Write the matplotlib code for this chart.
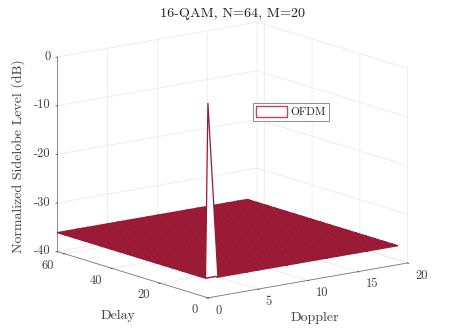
import numpy as np
import matplotlib
matplotlib.use('Agg')
import matplotlib.pyplot as plt
from matplotlib.patches import Patch

plt.rcParams['font.family'] = ['cmr10', 'DejaVu Serif']
plt.rcParams['axes.unicode_minus'] = False

W, H = 449, 336

# mesh grid, N=64 delay bins and M=20 doppler bins
delay = np.arange(64)
doppler = np.arange(20)
floor_level = -36.1
peak_level = 0.0

delay_ticks = [0, 20, 40, 60]
doppler_ticks = [0, 5, 10, 15, 20]
level_ticks = [-40, -30, -20, -10, 0]
level_labels = ['-40', '-30', '-20', '-10', '0']

RED = '#9a1935'
TXT = '#404040'
AXC = '#7a7a7a'
GRID = '#ebebeb'

fig = plt.figure(figsize=(W / 100, H / 100), dpi=100)
side = 394.4
ax = fig.add_axes([30 / W, -26.5 / H, side / W, side / H], projection='3d')
ax.set_proj_type('ortho')
ax.view_init(elev=13.4, azim=-127)
ax.set_box_aspect((1, 1, 0.8))

X, Y = np.meshgrid(doppler, delay)
Z = np.full(X.shape, floor_level)
Z[0, 0] = peak_level
ax.plot_surface(X, Y, Z, rstride=1, cstride=1, color='white', edgecolor=RED,
                linewidth=0.9, shade=False, antialiased=True)

ax.set_xlim(0, 20, view_margin=0)
ax.set_ylim(0, 63, view_margin=0)
ax.set_zlim(-40, 0, view_margin=0)
ax.set_xticks(doppler_ticks)
ax.set_yticks(delay_ticks)
ax.set_zticks(level_ticks)
ax.set_zticklabels(level_labels)
ax.tick_params(labelsize=9, colors=TXT)
ax.xaxis.set_tick_params(pad=-0.2)
ax.yaxis.set_tick_params(pad=-0.2)
ax.zaxis.set_tick_params(pad=-5)

for axis in (ax.xaxis, ax.yaxis, ax.zaxis):
    axis.set_pane_color((1, 1, 1, 0))
    axis.pane.set_edgecolor((1, 1, 1, 0))
    axis.line.set_color(AXC)
    axis.line.set_linewidth(0.6)
    axis._axinfo['grid'].update(color=GRID, linewidth=0.6)
    axis._axinfo['tick'].update(inward_factor=0.1, outward_factor=0.0, linewidth={True: 0.5, False: 0.5}, color=AXC)

# MATLAB style label anchoring
for t in ax.xaxis.get_major_ticks():
    t.label1.set_ha('left')
    t.label1.set_va('center')
for t in ax.yaxis.get_major_ticks():
    t.label1.set_ha('right')
    t.label1.set_va('center')
for t in ax.zaxis.get_major_ticks():
    t.label1.set_ha('right')
    t.label1.set_va('center')

fig.text(232 / W, 1 - 14 / H, '16-QAM, N=64, M=20', ha='center', va='center', fontsize=10.2, color='#222222')
fig.text(118 / W, 1 - 316 / H, 'Delay', ha='center', va='center', fontsize=10, color=TXT)
fig.text(315 / W, 1 - 318 / H, 'Doppler', ha='center', va='center', fontsize=10, color=TXT)
fig.text(18 / W, 1 - 156 / H, 'Normalized Sidelobe Level (dB)', rotation=90, ha='center', va='center', fontsize=10, color=TXT)

fig.legend(handles=[Patch(facecolor='white', edgecolor='#b84a63', linewidth=1.0, label='OFDM')],
           loc='upper left', bbox_to_anchor=(253 / W, 1 - 103 / H), fontsize=8.2,
           fancybox=False, framealpha=1, edgecolor='#7a7a7a', borderpad=0.3, borderaxespad=0,
           handlelength=2.7, handleheight=1.0, handletextpad=0.3, labelcolor='#222222').get_frame().set_linewidth(0.6)

fig.savefig('out.png', dpi=100)
